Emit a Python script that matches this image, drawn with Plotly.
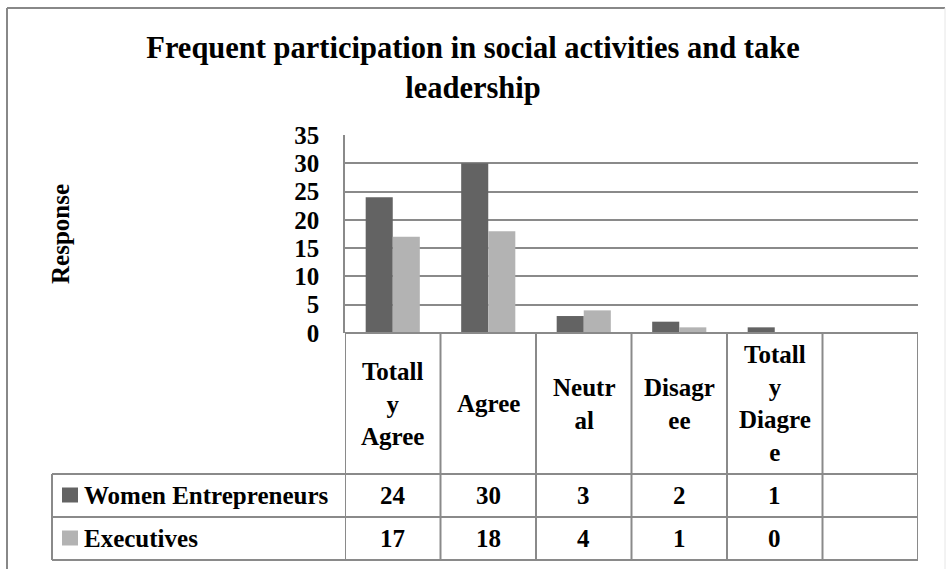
import plotly.graph_objects as go

# ---------------- data ----------------
categories = ["Totally Agree", "Agree", "Neutral", "Disagree", "Totally Diagree"]
category_labels = ["Totall<br>y<br>Agree", "Agree", "Neutr<br>al", "Disagr<br>ee", "Totall<br>y<br>Diagre<br>e"]
series_names = ["Women Entrepreneurs", "Executives"]
women_entrepreneurs = [24, 30, 3, 2, 1]
executives = [17, 18, 4, 1, 0]
series_values = [women_entrepreneurs, executives]
series_colors = ["#636363", "#b3b3b3"]
y_ticks = [0, 5, 10, 15, 20, 25, 30, 35]
title_text = "Frequent participation in social activities and take<br>leadership"
y_title = "Response"

# ---------------- geometry (pixels) ----------------
W, H = 946, 569
PL, PR, PT, PB = 345, 918, 135, 333       # plot area
GRID = "#8a8a8a"
FONT = "Liberation Serif"


def xp(px):
    return (px - PL) / (PR - PL)


def yp(py):
    return (PB - py) / (PB - PT)


fig = go.Figure()
for name, vals, col in zip(series_names, series_values, series_colors):
    fig.add_trace(go.Bar(x=categories, y=vals, name=name, marker_color=col,
                         marker_line_width=0, showlegend=False))

n_slots = len(categories) + 1  # one empty slot at the right, as in the reference

shapes = []
annotations = []

# outer chart border
shapes.append(dict(type="line", xref="paper", yref="paper", x0=xp(7), x1=xp(945), y0=yp(8), y1=yp(8),
                   line=dict(color="#888888", width=2)))
shapes.append(dict(type="line", xref="paper", yref="paper", x0=xp(7), x1=xp(7), y0=yp(8), y1=yp(575),
                   line=dict(color="#888888", width=2)))
shapes.append(dict(type="line", xref="paper", yref="paper", x0=xp(945), x1=xp(945), y0=yp(8), y1=yp(575),
                   line=dict(color="#e6e6e6", width=1)))

# data table
row_tops = [333, 474, 517, 560]
LEG_L = 52
shapes.append(dict(type="line", xref="paper", yref="paper", x0=0, x1=1, y0=yp(row_tops[0]), y1=yp(row_tops[0]),
                   line=dict(color=GRID, width=2)))
for r in row_tops[1:]:
    shapes.append(dict(type="line", xref="paper", yref="paper", x0=xp(LEG_L), x1=1, y0=yp(r), y1=yp(r),
                       line=dict(color=GRID, width=2)))
shapes.append(dict(type="line", xref="paper", yref="paper", x0=xp(LEG_L), x1=xp(LEG_L),
                   y0=yp(row_tops[1]), y1=yp(row_tops[3]), line=dict(color=GRID, width=2)))
for i in range(n_slots + 1):
    shapes.append(dict(type="line", xref="x", yref="paper", x0=i - 0.5, x1=i - 0.5,
                       y0=yp(row_tops[0]), y1=yp(row_tops[3]), line=dict(color=GRID, width=2)))

tfont = dict(family=FONT, size=25, color="#000000", weight="bold")

# header labels
for i, lab in enumerate(category_labels):
    annotations.append(dict(x=i, y=yp((row_tops[0] + row_tops[1]) / 2), xref="x", yref="paper",
                            text=lab, showarrow=False, font=tfont, xanchor="center", yanchor="middle"))

# rows: legend key + values
for r, (name, vals, col) in enumerate(zip(series_names, series_values, series_colors)):
    top, bot = row_tops[r + 1], row_tops[r + 2]
    mid = (top + bot) / 2
    shapes.append(dict(type="rect", xref="paper", yref="paper", x0=xp(62), x1=xp(78),
                       y0=yp(mid - 8), y1=yp(mid + 7), fillcolor=col, line=dict(width=0)))
    annotations.append(dict(x=xp(82), y=yp(mid), xref="paper", yref="paper", text=name,
                            showarrow=False, font=tfont, xanchor="left", yanchor="middle"))
    for i, v in enumerate(vals):
        annotations.append(dict(x=i, y=yp(mid), xref="x", yref="paper", text=str(v),
                                showarrow=False, font=tfont, xanchor="center", yanchor="middle"))

# y-axis title
annotations.append(dict(x=xp(60), y=yp(234), xref="paper", yref="paper", text=y_title, textangle=-90,
                        showarrow=False, font=tfont, xanchor="center", yanchor="middle"))

fig.update_layout(
    width=W, height=H,
    margin=dict(l=PL, r=W - PR, t=PT, b=H - PB, autoexpand=False),
    paper_bgcolor="white", plot_bgcolor="white",
    barmode="group", bargap=0.433, bargroupgap=0,
    title=dict(text=title_text, x=0.5, xref="container", xanchor="center",
               y=1 - 58 / H, yref="container", yanchor="top",
               font=dict(family=FONT, size=30.5, color="#000000", weight="bold")),
    xaxis=dict(type="category", range=[-0.5, n_slots - 0.5], showticklabels=False,
               showgrid=False, zeroline=False, showline=False, fixedrange=True),
    yaxis=dict(range=[0, 35], tickvals=y_ticks, showgrid=True, gridcolor=GRID, gridwidth=1.5,
               zeroline=False, showline=True, linecolor=GRID, linewidth=1.5,
               ticklabelstandoff=19,
               tickfont=dict(family=FONT, size=25, color="#000000", weight="bold")),
    shapes=shapes, annotations=annotations,
)

fig.write_html("out.html", config={"displayModeBar": False},
               post_script="document.body.style.margin='0';")
